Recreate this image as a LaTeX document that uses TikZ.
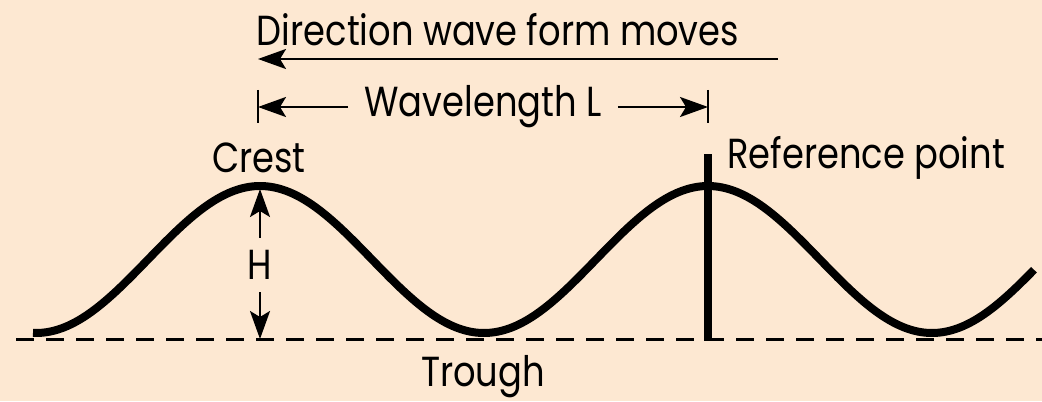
\documentclass[tikz,border=0pt]{standalone}
\usepackage{fontspec}
\setmainfont[FakeStretch=0.84]{Poppins}
\usepackage{tikz}
\usetikzlibrary{arrows.meta}
\definecolor{WaveBackColor}{RGB}{253,232,210}

\begin{document}
\begin{tikzpicture}[x=0.5pt,y=-0.5pt,font=\fontsize{21}{25}\selectfont,
  dimline/.style={line width=1.2pt,-{Stealth[length=14pt,width=10pt,inset=3pt]}},
  tickline/.style={line width=1.2pt},
  waveline/.style={line width=4pt,line cap=butt},
  baseline/.style={line width=1.5pt,dash pattern=on 9pt off 6pt},
  lbl/.style={inner sep=0pt}]
\fill[WaveBackColor] (0,0) rectangle (1042,401);
\useasboundingbox (0,0) rectangle (1042,401);
% still water level and the wave
\draw[baseline] (16,339) -- (1042,339);
\draw[waveline] plot[domain=33:1034,samples=200,smooth] (\x,{259.5+73.5*cos(0.803571*(\x-36))});
% reference point
\coordinate (reftop) at (708,154);
\coordinate (refbot) at (708,341);
\draw[line width=4pt] (reftop) -- (refbot);
\node[lbl,anchor=west] (ref) at (727,158) {Reference point};
% crest, trough and height
\node[lbl] (crestlbl) at (259,158) {Crest};
\node[lbl] (trough) at (483,377) {Trough};
\coordinate (crest) at (260,189);
\coordinate (crestbase) at (260,339);
\node[inner xsep=4pt,inner ysep=6pt] (h) at (260,265) {H};
\draw[dimline] (h) -- (crest);
\draw[dimline] (h) -- (crestbase);
% wavelength
\coordinate (wlleft) at (258,107);
\coordinate (wlright) at (708,107);
\node[inner xsep=8pt] (wl) at (483,107) {Wavelength L};
\draw[tickline] (258,90) -- (258,123);
\draw[tickline] (708,90) -- (708,123);
\draw[dimline] (wl) -- (wlleft);
\draw[dimline] (wl) -- (wlright);
% direction of travel
\node[lbl] (dir) at (498,30) {Direction wave form moves};
\coordinate (dirstart) at (778,59);
\coordinate (dirend) at (258,59);
\draw[dimline] (dirstart) -- (dirend);
\end{tikzpicture}
\end{document}
